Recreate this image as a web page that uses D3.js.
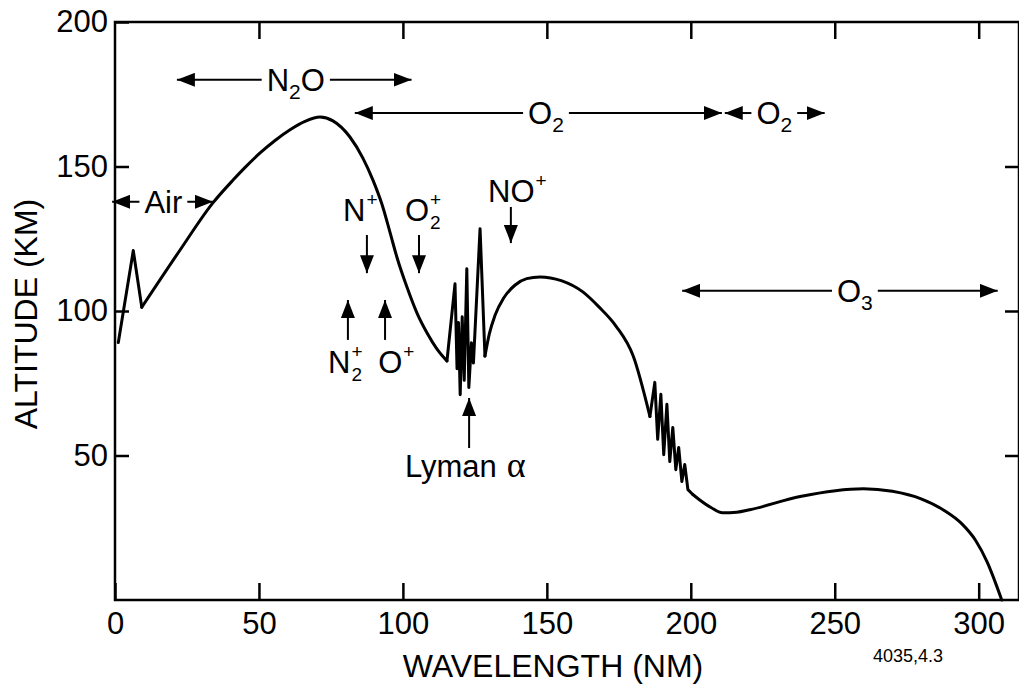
<!DOCTYPE html>
<html>
<head>
<meta charset="utf-8">
<script src="https://cdn.jsdelivr.net/npm/d3@7"></script>
<style>
  body { margin: 0; background: #fff; }
  text { font-family: "Liberation Sans", Arial, Helvetica, sans-serif; fill: #000; }
</style>
</head>
<body>
<svg id="chart" width="1019" height="689"></svg>
<script>
// absorption altitude curve, [wavelength nm, altitude km], split by how it is drawn
var riseStart = [[1.15, 89.1], [6.35, 120.9], [9.3, 101.3]];
var thermoHump = [[9.3, 101.3], [22.6, 121.1], [34, 137.4], [41, 145.3], [45.2, 149.7], [50.4, 154.7],
                  [55.6, 159], [60.8, 162.7], [66, 165.6], [71.2, 167.1], [75.7, 165.8], [81.6, 160.2],
                  [86.1, 152.9], [89.6, 145.3], [92.7, 137], [95.5, 127.3], [97.9, 118.7], [101.4, 108.3],
                  [104.9, 99.3], [108.4, 92.4], [111.8, 86.9], [115.3, 82.7]];
var lymanBand = [[115.3, 82.7], [118.1, 109.4], [118.8, 80], [119.3, 96], [119.9, 71], [120.6, 98],
                 [121.3, 76], [122.2, 114.6], [122.9, 73.5], [123.8, 89], [124.5, 82], [126.8, 128.5],
                 [128.5, 84.4]];
var midHump = [[128.5, 84.4], [130, 92], [132, 98.5], [135, 104.5], [139, 109], [143, 111.2], [147.6, 111.8],
               [155, 110.5], [162.5, 106.6], [168, 101.5], [174, 94.8], [180, 84.4], [185.8, 63.5]];
var schumannBand = [[185.8, 63.5], [187.5, 75.3], [188.5, 55.6], [189.6, 71.2], [190.6, 50.3], [191.7, 67.7],
                    [192.7, 47.9], [193.75, 59.7], [194.8, 45.1], [195.8, 52.8], [196.9, 41], [197.9, 46.9],
                    [199, 38.2], [200.7, 36.5]];
var ozoneTail = [[200.7, 36.5], [203, 34.7], [207, 32], [211, 30.2], [216, 30.4], [220.5, 31.25], [238, 35.8],
                 [260, 38.5], [270, 37.6], [280, 35], [288, 31], [294, 26.5], [299, 20.5], [303, 13],
                 [306, 5.5], [308, 0]];

var xTicks = [0, 50, 100, 150, 200, 250, 300];
var yTicks = [50, 100, 150, 200];

// horizontal range arrows: label parts, from/to wavelength, altitude, label centre
var rangeArrows = [
  { parts: [["N"], ["2", "sub"], ["O"]], from: 21.5, to: 103, alt: 180, mid: 62.8 },
  { parts: [["O"], ["2", "sub"]], from: 83.3, to: 210.8, alt: 168.5, mid: 149.7 },
  { parts: [["O"], ["2", "sub"]], from: 211.8, to: 246.5, alt: 168.5, mid: 229 },
  { parts: [["Air"]], from: -1, to: 34, alt: 137.8, mid: 16.8 },
  { parts: [["O"], ["3", "sub"]], from: 197, to: 306.6, alt: 107, mid: 257 }
];

// ion markers: label (left edge, baseline altitude), arrow wavelength and tail/tip altitudes
var ionArrows = [
  { base: "N", sup: "+", sub: null, left: 79.2, textAlt: 131.1, at: 87.5, tail: 126.3, tip: 113.1 },
  { base: "O", sup: "+", sub: "2", left: 100.7, textAlt: 131.1, at: 105.6, tail: 126.3, tip: 113.1 },
  { base: "NO", sup: "+", sub: null, left: 129.6, textAlt: 137.7, at: 137.5, tail: 136, tip: 123.5 },
  { base: "N", sup: "+", sub: "2", left: 74, textAlt: 78.5, at: 80.9, tail: 90, tip: 103.8 },
  { base: "O", sup: "+", sub: null, left: 91.4, textAlt: 78.5, at: 93.8, tail: 90, tip: 103.8 },
  { base: "Lyman", greek: "\u03b1", left: 100.7, textAlt: 42.6, at: 123, tail: 52.6, tip: 69.9 }
];

var svg = d3.select("#chart");
var x = d3.scaleLinear().domain([0, 314]).range([115, 1019]);
var y = d3.scaleLinear().domain([0, 200]).range([600, 22]);

svg.append("defs").append("marker")
  .attr("id", "head")
  .attr("viewBox", "0 0 18 14")
  .attr("refX", 18).attr("refY", 7)
  .attr("markerWidth", 18).attr("markerHeight", 14)
  .attr("markerUnits", "userSpaceOnUse")
  .attr("orient", "auto-start-reverse")
  .append("path").attr("d", "M0,0L18,7L0,14Z").attr("fill", "#000");

// frame
svg.append("rect")
  .attr("x", x(0)).attr("y", y(200))
  .attr("width", x(314) - x(0)).attr("height", y(0) - y(200))
  .attr("fill", "none").attr("stroke", "#000").attr("stroke-width", 2.5);

function styleAxis(g, fs) {
  g.select(".domain").remove();
  g.selectAll(".tick line").attr("stroke", "#000").attr("stroke-width", 2.5);
  g.selectAll(".tick text").style("font-size", fs + "px").attr("fill", "#000");
}

svg.append("g").attr("transform", "translate(0," + y(0) + ")")
  .call(d3.axisBottom(x).tickValues(xTicks).tickSize(-17).tickPadding(12))
  .call(styleAxis, 31);
svg.append("g").attr("transform", "translate(0," + y(200) + ")")
  .call(d3.axisTop(x).tickValues(xTicks.slice(1)).tickSize(-17).tickFormat(""))
  .call(styleAxis, 31);
svg.append("g").attr("transform", "translate(" + x(0) + ",0)")
  .call(d3.axisLeft(y).tickValues(yTicks).tickSize(-14).tickPadding(7))
  .call(styleAxis, 31);
svg.append("g").attr("transform", "translate(" + x(314) + ",0)")
  .call(d3.axisRight(y).tickValues(yTicks.slice(0, 3)).tickSize(-14).tickFormat(""))
  .call(styleAxis, 31);

// axis titles
svg.append("text")
  .attr("x", 553).attr("y", 677)
  .attr("text-anchor", "middle")
  .style("font-size", "32px")
  .text("WAVELENGTH (NM)");
svg.append("text")
  .attr("transform", "translate(37,314) rotate(-90)")
  .attr("text-anchor", "middle")
  .style("font-size", "32px")
  .text("ALTITUDE (KM)");
svg.append("text")
  .attr("x", 873).attr("y", 662)
  .style("font-size", "18px")
  .text("4035,4.3");

// curve
var smooth = d3.line().x(function (d) { return x(d[0]); }).y(function (d) { return y(d[1]); })
  .curve(d3.curveMonotoneX);
var jagged = d3.line().x(function (d) { return x(d[0]); }).y(function (d) { return y(d[1]); });

[[riseStart, jagged], [thermoHump, smooth], [lymanBand, jagged],
 [midHump, smooth], [schumannBand, jagged], [ozoneTail, smooth]].forEach(function (s) {
  svg.append("path")
    .attr("d", s[1](s[0]))
    .attr("fill", "none")
    .attr("stroke", "#000")
    .attr("stroke-width", 3)
    .attr("stroke-linejoin", "round")
    .attr("stroke-linecap", "round");
});

// range arrows
rangeArrows.forEach(function (a) {
  var cy = y(a.alt);
  var t = svg.append("text")
    .attr("x", x(a.mid)).attr("y", cy + 11)
    .attr("text-anchor", "middle")
    .style("font-size", "31px");
  var shift = 0;
  a.parts.forEach(function (p) {
    var sp = t.append("tspan").text(p[0]);
    if (p[1] === "sub") {
      sp.style("font-size", "21px").attr("dy", 8);
      shift = 8;
    } else if (shift) {
      sp.attr("dy", -shift);
      shift = 0;
    }
  });
  var bb = t.node().getBBox();
  var gap = 5;
  svg.append("line")
    .attr("x1", bb.x - gap).attr("x2", x(a.from))
    .attr("y1", cy).attr("y2", cy)
    .attr("stroke", "#000").attr("stroke-width", 2)
    .attr("marker-end", "url(#head)");
  svg.append("line")
    .attr("x1", bb.x + bb.width + gap).attr("x2", x(a.to))
    .attr("y1", cy).attr("y2", cy)
    .attr("stroke", "#000").attr("stroke-width", 2)
    .attr("marker-end", "url(#head)");
});

// ion arrows
ionArrows.forEach(function (a) {
  var bx = x(a.left), by = y(a.textAlt);
  var t = svg.append("text")
    .attr("x", bx).attr("y", by)
    .style("font-size", "31px");
  t.append("tspan").text(a.base);
  var w = t.node().getComputedTextLength();
  if (a.sup) {
    t.append("tspan").attr("x", bx + w + 1).attr("y", by - 15)
      .style("font-size", "19px").text(a.sup);
  }
  if (a.sub) {
    t.append("tspan").attr("x", bx + w + 1).attr("y", by + 8)
      .style("font-size", "19px").text(a.sub);
  }
  if (a.greek) {
    t.append("tspan").attr("x", bx + w + 10).attr("y", by)
      .style("font-family", "'Liberation Serif', 'DejaVu Serif', serif")
      .style("font-size", "36px").text(a.greek);
  }
  svg.append("line")
    .attr("x1", x(a.at)).attr("x2", x(a.at))
    .attr("y1", y(a.tail)).attr("y2", y(a.tip))
    .attr("stroke", "#000").attr("stroke-width", 2)
    .attr("marker-end", "url(#head)");
});
</script>
</body>
</html>
